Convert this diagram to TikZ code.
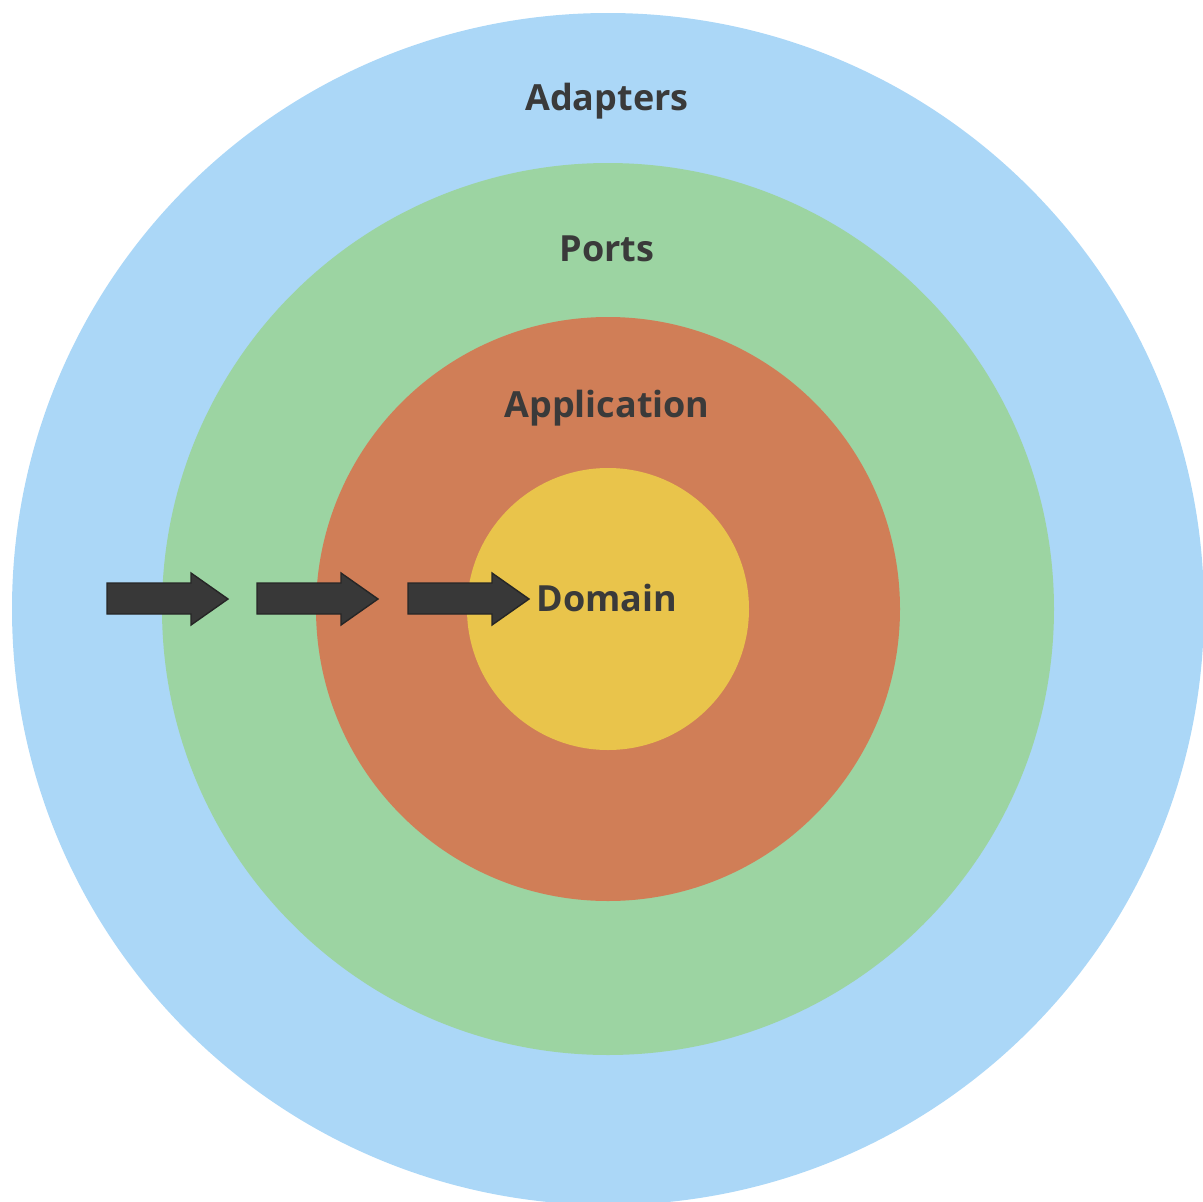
\documentclass[tikz,border=0pt]{standalone}
\usepackage{fontspec}
\setmainfont{Open Sans}
\definecolor{cblue}{HTML}{ABD7F7}
\definecolor{cgreen}{HTML}{9CD4A2}
\definecolor{corange}{HTML}{D07E57}
\definecolor{cyellow}{HTML}{E9C44B}
\definecolor{ctext}{HTML}{3A3A3A}
\definecolor{carrow}{HTML}{383838}
\tikzset{
  lbl/.style={anchor=base, text=ctext, font=\fontsize{36}{43}\selectfont\bfseries, inner sep=0pt},
  blockarrow/.style={fill=carrow, draw=black!85, line width=1.4pt, line join=miter},
}
\begin{document}
\begin{tikzpicture}[x=1pt,y=-1pt]
\useasboundingbox (0,0) rectangle (1203,1202);
\clip (0,0) rectangle (1203,1202);
\coordinate (c) at (608,609);
\fill[cblue] (c) circle (596);
\fill[cgreen] (c) circle (446);
\fill[corange] (c) circle (292);
\fill[cyellow] (c) circle (141);
\node[lbl] (adapters) at (607,110) {Adapters};
\node[lbl] (ports) at (607,261.5) {Ports};
\node[lbl] (application) at (607,417) {Application};
\node[lbl] (domain) at (607,611) {Domain};
\foreach \x/\n in {107/a1, 257/a2, 408/a3}{
  \draw[blockarrow] (\x,583) -- (\x+84,583) -- (\x+84,573) -- (\x+121,599)
     -- (\x+84,625) -- (\x+84,614) -- (\x,614) -- cycle;
}
\end{tikzpicture}
\end{document}
